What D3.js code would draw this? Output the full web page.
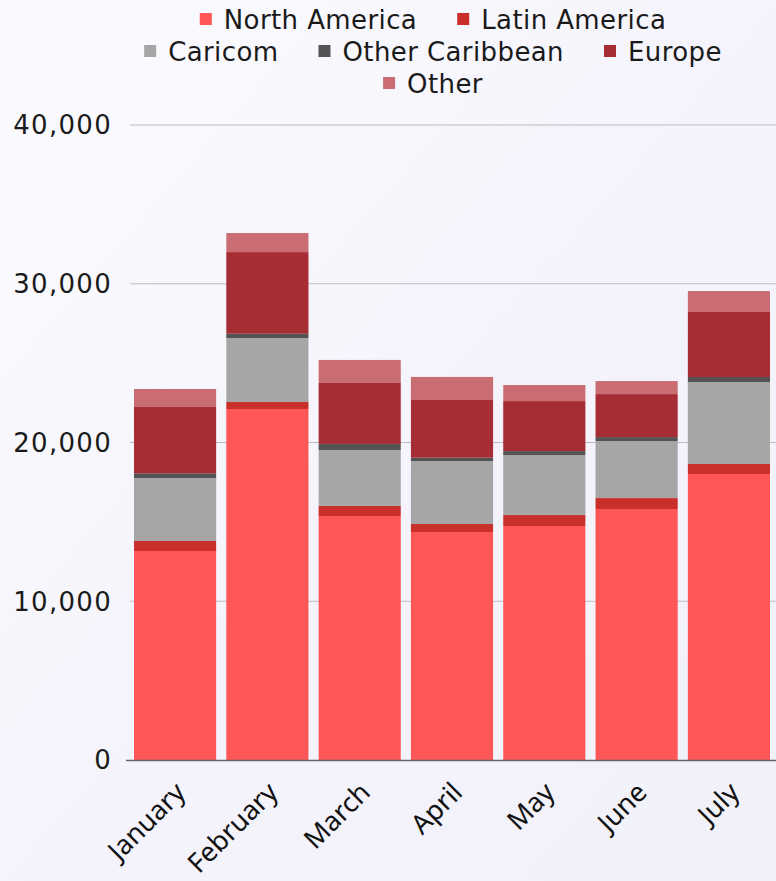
<!DOCTYPE html>
<html>
<head>
<meta charset="utf-8">
<script src="https://cdn.jsdelivr.net/npm/d3@7"></script>
<style>
  html, body { margin: 0; padding: 0; }
  body { width: 776px; height: 881px; overflow: hidden; }
</style>
</head>
<body>
<div id="chart"></div>
<script>
var months = ["January", "February", "March", "April", "May", "June", "July"];
var seriesNames = ["North America", "Latin America", "Caricom", "Other Caribbean", "Europe", "Other"];
var colors = ["#ff5757", "#c9302c", "#a6a6a6", "#545454", "#a52d33", "#c96d72"];

var northAmerica   = [13165, 22110, 15370, 14360, 14740, 15810, 18015];
var latinAmerica   = [630, 440, 630, 505, 690, 690, 630];
var caricom        = [3970, 4030, 3530, 3970, 3780, 3590, 5165];
var otherCaribbean = [295, 270, 380, 210, 250, 250, 315];
var europe         = [4175, 5145, 3840, 3635, 3150, 2710, 4095];
var other          = [1135, 1200, 1450, 1450, 1010, 820, 1320];

var yTicks = [0, 10000, 20000, 30000, 40000];

var width = 776, height = 881;
var x0 = 134, x1 = 770, yTop = 125, yBottom = 760;

var rows = months.map(function(m, i) {
  return {
    month: m,
    "North America": northAmerica[i],
    "Latin America": latinAmerica[i],
    "Caricom": caricom[i],
    "Other Caribbean": otherCaribbean[i],
    "Europe": europe[i],
    "Other": other[i]
  };
});

var stack = d3.stack().keys(seriesNames);
var stacked = stack(rows);

var x = d3.scaleBand().domain(months).range([x0, x1]).paddingInner(0.11).paddingOuter(0);
var y = d3.scaleLinear().domain([0, 40000]).range([yBottom, yTop]);
var color = d3.scaleOrdinal().domain(seriesNames).range(colors);

var svg = d3.select("#chart").append("svg")
  .attr("width", width)
  .attr("height", height)
  .style("font-family", "'Noto Sans', sans-serif");

// soft background
var defs = svg.append("defs");
var grad = defs.append("linearGradient").attr("id", "bg")
  .attr("x1", "0").attr("y1", "0").attr("x2", "1").attr("y2", "1");
grad.append("stop").attr("offset", "0%").attr("stop-color", "#fbfbfe");
grad.append("stop").attr("offset", "50%").attr("stop-color", "#f5f4fc");
grad.append("stop").attr("offset", "100%").attr("stop-color", "#f1f1f9");
svg.append("rect").attr("width", width).attr("height", height).attr("fill", "url(#bg)");

// gridlines
svg.append("g")
  .selectAll("line")
  .data(yTicks.filter(function(d) { return d > 0; }))
  .enter().append("line")
  .attr("x1", 130).attr("x2", width)
  .attr("y1", function(d) { return y(d); })
  .attr("y2", function(d) { return y(d); })
  .attr("stroke", "#bdbcc2")
  .attr("stroke-width", 1.2);

// y labels
svg.append("g")
  .selectAll("text")
  .data(yTicks)
  .enter().append("text")
  .attr("x", 112)
  .attr("y", function(d) { return y(d); })
  .attr("dy", "0.36em")
  .attr("text-anchor", "end")
  .style("font-family", "'DejaVu Sans', sans-serif")
  .style("font-size", "26px")
  .style("letter-spacing", "1.3px")
  .style("fill", "#1a1a1a")
  .text(function(d) { return d3.format(",")(d); });

// bars
var layer = svg.append("g").selectAll("g")
  .data(stacked)
  .enter().append("g")
  .attr("fill", function(d) { return color(d.key); });

layer.selectAll("rect")
  .data(function(d) { return d; })
  .enter().append("rect")
  .attr("x", function(d) { return x(d.data.month); })
  .attr("width", x.bandwidth())
  .attr("y", function(d) { return y(d[1]); })
  .attr("height", function(d) { return y(d[0]) - y(d[1]); });

// baseline
svg.append("line")
  .attr("x1", 126).attr("x2", width)
  .attr("y1", yBottom + 0.5).attr("y2", yBottom + 0.5)
  .attr("stroke", "#666")
  .attr("stroke-width", 1.5);

// x labels
svg.append("g")
  .selectAll("text")
  .data(months)
  .enter().append("text")
  .attr("transform", function(d) {
    return "translate(" + (x(d) + x.bandwidth() / 2 + 12) + "," + (yBottom + 34) + ") rotate(-45)";
  })
  .attr("text-anchor", "end")
  .style("font-size", "27px")
  .style("fill", "#111")
  .text(function(d) { return d; });

// legend, flowed in centered rows
var legendFont = 26, sq = 12, sqGap = 12, itemGap = 40, maxRow = 600;
var legend = svg.append("g");
var items = seriesNames.map(function(name) {
  var g = legend.append("g");
  g.append("rect").attr("width", sq).attr("height", sq).attr("y", -sq / 2 - 1)
    .attr("fill", color(name));
  var t = g.append("text").attr("x", sq + sqGap).attr("dy", "0.35em")
    .style("font-family", "'DejaVu Sans', sans-serif")
    .style("font-size", legendFont + "px").style("fill", "#1a1a1a")
    .style("letter-spacing", "0.4px")
    .text(name);
  return { g: g, w: sq + sqGap + t.node().getComputedTextLength() };
});

var legendRows = [[]], rowW = 0;
items.forEach(function(it) {
  var add = (legendRows[legendRows.length - 1].length ? itemGap : 0) + it.w;
  if (rowW + add > maxRow && legendRows[legendRows.length - 1].length) {
    legendRows.push([it]); rowW = it.w;
  } else {
    legendRows[legendRows.length - 1].push(it); rowW += add;
  }
});
legendRows.forEach(function(r, ri) {
  var total = d3.sum(r, function(d) { return d.w; }) + itemGap * (r.length - 1);
  var cx = 433 - total / 2;
  r.forEach(function(it) {
    it.g.attr("transform", "translate(" + cx + "," + (20 + ri * 32) + ")");
    cx += it.w + itemGap;
  });
});
</script>
</body>
</html>
